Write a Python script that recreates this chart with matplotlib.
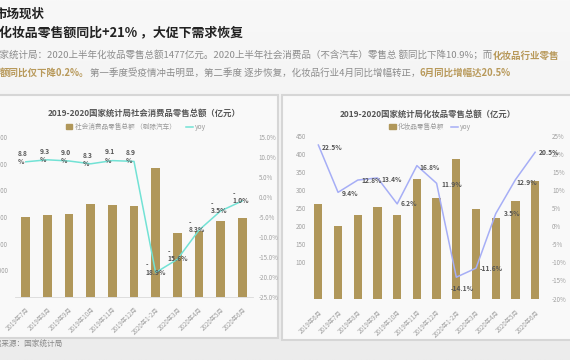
import numpy as np
import matplotlib
matplotlib.use("Agg")
import matplotlib.pyplot as plt
from matplotlib.patches import Rectangle, Patch
from matplotlib.lines import Line2D

plt.rcParams['font.family'] = ['Noto Sans CJK SC', 'DejaVu Sans']

# ---------------- data ----------------
left_months = ["2019年7月", "2019年8月", "2019年9月", "2019年10月", "2019年11月",
               "2019年12月", "2020年1-2月", "2020年3月", "2020年4月", "2020年5月", "2020年6月"]
retail_sales = [30000, 30700, 31100, 34700, 34500, 34200, 48200, 23900, 24700, 28500, 29800]
retail_yoy = [8.8, 9.3, 9.0, 8.3, 9.1, 8.9, -18.9, -15.6, -8.3, -3.5, -1.0]

right_months = ["2019年6月", "2019年7月", "2019年8月", "2019年9月", "2019年10月", "2019年11月",
                "2019年12月", "2020年1-2月", "2020年3月", "2020年4月", "2020年5月", "2020年6月"]
cosmetics_sales = [263, 200, 230, 254, 232, 330, 279, 385, 247, 223, 269, 325]
cosmetics_yoy = [22.5, 9.4, 12.8, 13.4, 6.2, 16.8, 11.9, -14.1, -11.6, 3.5, 12.9, 20.5]

left_yticks = [10000, 20000, 30000, 40000, 50000, 60000]
left_y2ticks = [15, 10, 5, 0, -5, -10, -15, -20, -25]
right_yticks = [100, 150, 200, 250, 300, 350, 400, 450]
right_y2ticks = [25, 20, 15, 10, 5, 0, -5, -10, -15, -20]

# ---------------- figure ----------------
W, H = 570, 360
fig = plt.figure(figsize=(W / 100, H / 100), dpi=100)

def fbox(x0, y0, x1, y1):
    return [x0 / W, 1 - y1 / H, (x1 - x0) / W, (y1 - y0) / H]

# background gradient
bg = fig.add_axes([0, 0, 1, 1], zorder=-10)
g = np.linspace(0, 1, 200)[:, None] * np.ones((1, 10))
bg.imshow(g, cmap=matplotlib.colors.LinearSegmentedColormap.from_list(
    "bg", ["#f8f8f8", "#ececec"]), aspect="auto", extent=[0, 1, 0, 1], origin="upper")
bg.set_axis_off()

# panels
for (x0, y0, x1, y1) in [(-5, 95, 278, 338), (282, 95, 580, 340)]:
    fig.patches.append(Rectangle((x0 / W, 1 - y1 / H), (x1 - x0) / W, (y1 - y0) / H,
                                 transform=fig.transFigure, facecolor="#f9f9f9",
                                 edgecolor="#d6d6d6", linewidth=1.5, zorder=-5))

# ---------------- header text ----------------
renderer = fig.canvas.get_renderer()

def segments(x_px, y_px, segs, size):
    x = x_px / W
    for s, color, weight in segs:
        t = fig.text(x, 1 - y_px / H, s, color=color, fontsize=size, fontweight=weight,
                     va="center", ha="left")
        ext = t.get_window_extent(renderer)
        x = ext.x1 / W

segments(-6, 14, [("市场现状", "#222222", "bold")], 9)
segments(-1, 32, [("化妆品零售额同比+21% ，大促下需求恢复", "#222222", "bold")], 9.3)
gray = "#8c8c8c"
gold = "#B8995A"
segments(-10, 56, [("国家统计局：2020上半年化妆品零售总额1477亿元。2020上半年社会消费品（不含汽车）零售总 额同比下降10.9%；而", gray, "normal"),
                   ("化妆品行业零售", gold, "bold")], 6.85)
segments(0, 73, [("额同比仅下降0.2%。", gold, "bold"),
                 ("第一季度受疫情冲击明显，第二季度 逐步恢复，化妆品行业4月同比增幅转正，", gray, "normal"),
                 ("6月同比增幅达20.5%", gold, "bold")], 6.8)

fig.text(-13 / W, 1 - 345 / H, "数据来源：国家统计局", color="#888888", fontsize=5.5, va="center")

bar_color = "#B0975A"
tick_color = "#a0a0a0"
lab_color = "#555555"

def style(ax, ax2):
    for a in (ax, ax2):
        for sp in a.spines.values():
            sp.set_visible(False)
        a.tick_params(length=0, labelsize=4.5, colors=tick_color)
        a.patch.set_alpha(0)
    ax.spines["bottom"].set_visible(True)
    ax.spines["bottom"].set_color("#d9d9d9")
    ax.spines["bottom"].set_linewidth(0.6)

# ---------------- left chart ----------------
axL = fig.add_axes(fbox(15, 137, 253, 297))
xL = np.arange(len(left_months))
axL.bar(xL, retail_sales, width=0.4, color=bar_color, zorder=2)
axL.set_ylim(0, 60000)
axL.set_xlim(-0.5, len(left_months) - 0.5)
axL.set_yticks(left_yticks)
axL.set_yticklabels([str(v) for v in left_yticks])
axL.set_xticks(xL)
axL.set_xticklabels(left_months, rotation=45, ha="right", rotation_mode="anchor")
axL2 = axL.twinx()
axL2.plot(xL, retail_yoy, color="#72E2D5", linewidth=1.1, zorder=3)
axL2.set_ylim(-25, 15)
axL2.set_yticks(left_y2ticks)
axL2.set_yticklabels([f"{v:.1f}%" for v in left_y2ticks])
style(axL, axL2)
axL.tick_params(axis="y", pad=5)
axL.tick_params(axis="x", pad=6)
axL2.tick_params(axis="y", pad=4)
for xi, v in zip(xL, retail_yoy):
    txt = f"{v:.1f}\n%" if v >= 0 else f"-\n{abs(v):.1f}%"
    dx = -8 if v >= 0 else -10
    axL2.annotate(txt, (xi, v), xytext=(dx, -3), textcoords="offset pixels",
                  ha="left", va="bottom", fontsize=4.8, fontweight="bold",
                  color=lab_color, linespacing=1.2, zorder=4)

fig.text(144.5 / W, 1 - 113 / H, "2019-2020国家统计局社会消费品零售总额（亿元）",
         ha="center", va="center", fontsize=6, fontweight="bold", color="#555555")
fig.legend(handles=[Patch(color=bar_color, label="社会消费品零售总额 （剔除汽车）"),
                    Line2D([], [], color="#72E2D5", lw=1.1, label="yoy")],
           loc="center", bbox_to_anchor=(136 / W, 1 - 127 / H), ncol=2, frameon=False,
           fontsize=4.8, labelcolor="#999999", handlelength=1.0, handleheight=0.7,
           handletextpad=0.4, columnspacing=1.5)

# ---------------- right chart ----------------
axR = fig.add_axes(fbox(308.5, 136, 545, 298.5))
xR = np.arange(len(right_months))
axR.bar(xR, cosmetics_sales, width=0.42, color=bar_color, zorder=2)
axR.set_ylim(0, 450)
axR.set_xlim(-0.5, len(right_months) - 0.5)
axR.set_yticks(right_yticks)
axR.set_xticks(xR)
axR.set_xticklabels(right_months, rotation=45, ha="right", rotation_mode="anchor")
axR2 = axR.twinx()
axR2.plot(xR, cosmetics_yoy, color="#A6AEF6", linewidth=1.1, zorder=3)
axR2.set_ylim(-20, 25)
axR2.set_yticks(right_y2ticks)
axR2.set_yticklabels([f"{v}%" for v in right_y2ticks])
style(axR, axR2)
axR.spines["bottom"].set_visible(False)
axR.tick_params(axis="y", pad=2)
axR.tick_params(axis="x", pad=7)
axR2.tick_params(axis="y", pad=5)
r_offsets = [(3, -2), (4, -1), (4, 0), (4, -2), (3, 0), (3, -2), (5, -1),
             (-5.5, -11), (4, 0), (8, 0), (1, -3), (4, 0)]
for xi, v, (dx, dy) in zip(xR, cosmetics_yoy, r_offsets):
    axR2.annotate(f"{v:.1f}%", (xi, v), xytext=(dx, dy), textcoords="offset pixels",
                  ha="left", va="center", fontsize=4.8, fontweight="bold",
                  color=lab_color, zorder=4)

fig.text(428 / W, 1 - 114 / H, "2019-2020国家统计局化妆品零售总额（亿元）",
         ha="center", va="center", fontsize=6, fontweight="bold", color="#555555")
fig.legend(handles=[Patch(color=bar_color, label="化妆品零售总额"),
                    Line2D([], [], color="#A6AEF6", lw=1.1, label="yoy")],
           loc="center", bbox_to_anchor=(430 / W, 1 - 127 / H), ncol=2, frameon=False,
           fontsize=4.8, labelcolor="#999999", handlelength=1.0, handleheight=0.7,
           handletextpad=0.3, columnspacing=1.0)

fig.savefig("out.png", dpi=100)
